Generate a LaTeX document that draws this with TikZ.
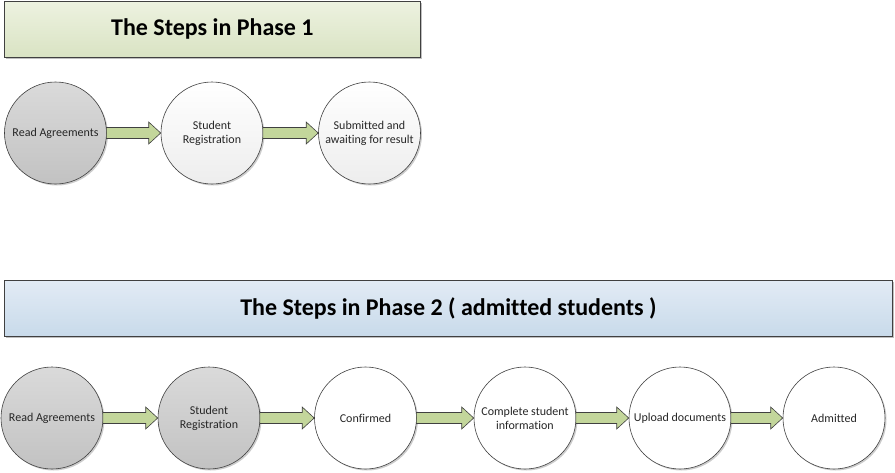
\documentclass[tikz,border=0pt]{standalone}
\usepackage{fontspec}
\setmainfont{Carlito}[Ligatures=NoCommon]
\usetikzlibrary{calc,shadows}
\definecolor{titlegA}{HTML}{EDF2E0}
\definecolor{titlegB}{HTML}{D9E3C3}
\definecolor{titlebA}{HTML}{E2EBF5}
\definecolor{titlebB}{HTML}{C8DAEA}
\definecolor{grayA}{HTML}{DADADA}
\definecolor{grayB}{HTML}{C2C2C2}
\definecolor{arrfill}{HTML}{C3D69B}
\definecolor{edge}{HTML}{404040}
\tikzset{
  titlebox/.style={draw=edge, line width=0.8pt, minimum height=56pt, anchor=north west,
    font=\bfseries\fontsize{24}{28}\selectfont,
    drop shadow={shadow xshift=2pt, shadow yshift=-2pt, fill=black, opacity=0.25}},
  stepcircle/.style={circle, draw=edge, line width=0.6pt, minimum size=102pt, inner sep=0pt,
    align=center, font=\fontsize{12}{14}\selectfont, text=black!85,
    drop shadow={shadow xshift=1.5pt, shadow yshift=-1.5pt, fill=black, opacity=0.2}},
  graycircle/.style={stepcircle, top color=grayA, bottom color=grayB},
  lightcircle/.style={stepcircle, top color=white, bottom color=black!7},
  whitecircle/.style={stepcircle, fill=white},
  arr/.style={draw=edge, line width=0.6pt, fill=arrfill, line join=miter},
}
\newcommand\fatarrow[2]{%
  \draw[arr] ($(#1.east)+(-0.5,-5.5)$) -- ($(#2.west)+(-12,-5.5)$) -- ($(#2.west)+(-12,-11)$)
    -- (#2.west) -- ($(#2.west)+(-12,11)$) -- ($(#2.west)+(-12,5.5)$)
    -- ($(#1.east)+(-0.5,5.5)$) -- cycle;}
\begin{document}
\begin{tikzpicture}[x=1pt,y=-1pt]
\useasboundingbox (0,0) rectangle (895,472);
% Phase 1
\node[titlebox, minimum width=416pt, top color=titlegA, bottom color=titlegB] (t1) at (4,1) {The Steps in Phase 1};
\node[graycircle] (a1) at (55.5,133) {Read Agreements};
\node[lightcircle] (a2) at (212,133) {Student\\Registration};
\node[lightcircle] (a3) at (369.5,133) {Submitted and\\awaiting for result};
\fatarrow{a1}{a2}
\fatarrow{a2}{a3}
% Phase 2
\node[titlebox, minimum width=888pt, top color=titlebA, bottom color=titlebB] (t2) at (4,280) {The Steps in Phase 2 ( admitted students )};
\node[graycircle] (b1) at (52,418) {Read Agreements};
\node[graycircle] (b2) at (209,418) {Student\\Registration};
\node[whitecircle] (b3) at (365.5,418) {Confirmed};
\node[whitecircle] (b4) at (525,418) {Complete student\\information};
\node[whitecircle] (b5) at (680,418) {Upload documents};
\node[whitecircle] (b6) at (834,418) {Admitted};
\fatarrow{b1}{b2}
\fatarrow{b2}{b3}
\fatarrow{b3}{b4}
\fatarrow{b4}{b5}
\fatarrow{b5}{b6}
\end{tikzpicture}
\end{document}
